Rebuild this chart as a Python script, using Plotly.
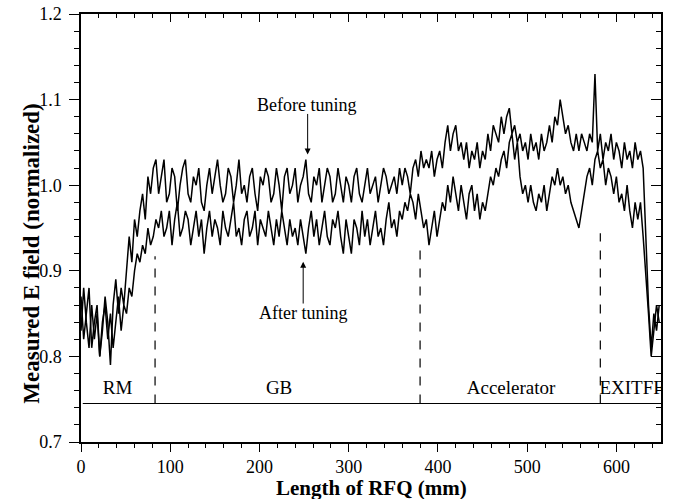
import plotly.graph_objects as go

# position along the RFQ (mm), one reading every 3 mm
length_mm = list(range(0, 651, 3))

before_tuning = [
    0.87, 0.82, 0.85, 0.88, 0.81, 0.84, 0.86, 0.80, 0.83, 0.87,
    0.84, 0.79, 0.86, 0.89, 0.85, 0.88, 0.86, 0.90, 0.94, 0.91,
    0.96, 0.94, 0.97, 0.99, 0.96, 1.01, 0.99, 1.02, 1.03, 0.99,
    1.01, 1.03, 0.98, 0.99, 1.02, 1.01, 0.97, 1.00, 1.02, 1.03,
    0.99, 0.98, 1.01, 1.00, 1.02, 0.98, 0.97, 1.00, 1.02, 0.99,
    1.01, 1.03, 1.00, 0.98, 0.99, 1.02, 1.01, 0.98, 1.00, 1.03,
    0.99, 1.00, 0.98, 1.01, 1.02, 0.99, 0.97, 1.01, 1.00, 1.02,
    1.01, 0.98, 0.99, 1.02, 1.00, 0.97, 1.01, 1.02, 0.99, 1.00,
    1.02, 0.98, 1.00, 1.01, 1.03, 0.99, 0.98, 1.01, 1.00, 1.02,
    0.98, 1.00, 1.02, 1.01, 0.98, 0.99, 1.02, 1.00, 0.98, 1.01,
    1.00, 0.98, 1.01, 1.02, 0.99, 0.98, 1.00, 1.02, 0.99, 1.00,
    1.01, 0.98, 1.00, 1.02, 1.01, 0.99, 1.00, 1.01, 0.99, 1.02,
    1.00, 1.02, 1.01, 0.99, 1.02, 1.03, 1.01, 1.04, 1.02, 1.03,
    1.02, 1.04, 1.01, 1.03, 1.04, 1.02, 1.05, 1.07, 1.04, 1.06,
    1.07, 1.04, 1.05, 1.03, 1.05, 1.02, 1.04, 1.03, 1.05, 1.02,
    1.04, 1.03, 1.06, 1.04, 1.07, 1.06, 1.05, 1.08, 1.06, 1.08,
    1.09, 1.06, 1.07, 1.05, 1.06, 1.04, 1.05, 1.03, 1.06, 1.04,
    1.05, 1.03, 1.06, 1.04, 1.05, 1.07, 1.05, 1.08, 1.07, 1.10,
    1.08, 1.06, 1.07, 1.05, 1.04, 1.06, 1.04, 1.06, 1.05, 1.04,
    1.06, 1.05, 1.13, 1.04, 1.06, 1.03, 1.05, 1.04, 1.06, 1.03,
    1.05, 1.04, 1.02, 1.05, 1.03, 1.04, 1.02, 1.05, 1.03, 1.04,
    1.02, 0.94, 0.86, 0.81, 0.85, 0.83, 0.86,
]

after_tuning = [
    0.83, 0.88, 0.84, 0.81, 0.86, 0.82, 0.85, 0.80, 0.84, 0.86,
    0.82, 0.85, 0.81, 0.84, 0.87, 0.83, 0.86, 0.85, 0.88, 0.87,
    0.90, 0.92, 0.91, 0.93, 0.92, 0.95, 0.93, 0.94, 0.96, 0.95,
    0.97, 0.94, 0.95, 0.97, 0.93, 0.96, 0.98, 0.94, 0.95, 0.97,
    0.96, 0.93, 0.95, 0.97, 0.94, 0.96, 0.92, 0.95, 0.97, 0.94,
    0.96, 0.95, 0.93, 0.97, 0.95, 0.94, 0.96, 0.98, 0.94, 0.95,
    0.93, 0.96, 0.97, 0.94, 0.95, 0.97, 0.93, 0.96, 0.95, 0.94,
    0.97, 0.95, 0.93, 0.96, 0.94, 0.97, 0.95, 0.93, 0.96, 0.94,
    0.95, 0.93, 0.96, 0.94, 0.92, 0.95, 0.97, 0.94, 0.96, 0.93,
    0.95, 0.97, 0.94, 0.93, 0.96, 0.95, 0.97, 0.94, 0.92, 0.96,
    0.94, 0.92, 0.96, 0.95, 0.93, 0.97, 0.94, 0.96, 0.93, 0.95,
    0.97, 0.94, 0.95, 0.93, 0.96, 0.98, 0.95, 0.96, 0.94, 0.97,
    0.96, 0.98, 0.97, 0.99, 0.98, 0.96, 0.99, 0.97, 0.95, 0.96,
    0.93, 0.95, 0.97, 0.94, 0.96, 0.98, 0.97, 1.00, 0.98, 1.01,
    0.99, 0.97, 1.00, 0.98, 0.96, 0.99, 1.00, 0.97, 0.99, 0.96,
    0.98, 0.97, 0.99, 1.01, 1.00, 1.02, 1.01, 1.03, 1.04, 1.02,
    1.05, 1.06, 1.03, 1.05, 1.01, 0.99, 1.00, 0.98, 1.00, 0.98,
    0.97, 0.99, 0.98, 1.00, 0.97, 0.99, 1.01, 1.00, 1.02, 1.00,
    1.01, 0.99, 1.00, 0.98, 0.97, 0.96, 0.95, 0.97, 0.99, 1.01,
    1.02, 1.00, 1.03, 1.04, 1.02, 1.03, 1.00, 1.02, 1.01, 0.99,
    1.01, 0.98, 0.99, 0.97, 1.00, 0.97, 0.95, 0.98, 0.96, 0.98,
    0.94, 0.90, 0.85, 0.80, 0.83, 0.86, 0.84,
]

# section boundaries (mm) and where each dashed marker starts (field value)
boundaries = [83, 380, 582]
boundary_tops = [0.917, 0.925, 0.944]
baseline = 0.745

section_names = ["RM", "GB", "Accelerator", "EXITFF"]
section_x = [41, 222, 482, 581]
section_y = [0.762, 0.762, 0.762, 0.762]

FONT = "Liberation Serif, Times New Roman, serif"
BLACK = "#000000"

fig = go.Figure()

for y in (before_tuning, after_tuning):
    fig.add_trace(go.Scatter(
        x=length_mm, y=y, mode="lines",
        line=dict(color=BLACK, width=1.5),
        showlegend=False, hoverinfo="skip",
    ))

fig.add_trace(go.Scatter(
    x=section_x, y=section_y, mode="text", text=section_names,
    textposition=["middle center", "middle center", "middle center", "middle right"],
    textfont=dict(family=FONT, size=19, color=BLACK),
    cliponaxis=True, showlegend=False, hoverinfo="skip",
))

# dummy trace so the mirrored (inside-tick) top/right axes get drawn
fig.add_trace(go.Scatter(x=[None], y=[None], xaxis="x2", yaxis="y2",
                         showlegend=False, hoverinfo="skip"))

fig.add_shape(type="line", x0=2, x1=650, y0=baseline, y1=baseline,
              xref="x", yref="y", line=dict(color=BLACK, width=1.2))
for bx, top in zip(boundaries, boundary_tops):
    fig.add_shape(type="line", x0=bx, x1=bx, y0=baseline, y1=top,
                  xref="x", yref="y", line=dict(color=BLACK, width=1.2, dash="dash"))

ann_font = dict(family=FONT, size=18, color=BLACK)
fig.add_annotation(x=253, y=1.094, text="Before tuning", showarrow=False, font=ann_font)
fig.add_annotation(x=254, y=1.036, ax=254, ay=1.085, axref="x", ayref="y",
                   text="", showarrow=True, arrowhead=2, arrowsize=1.2,
                   arrowwidth=1, arrowcolor=BLACK)
fig.add_annotation(x=249, y=0.851, text="After tuning", showarrow=False, font=ann_font)
fig.add_annotation(x=249, y=0.9105, ax=249, ay=0.860, axref="x", ayref="y",
                   text="", showarrow=True, arrowhead=2, arrowsize=1.2,
                   arrowwidth=1, arrowcolor=BLACK)

# axis titles as annotations, placed like the original
fig.add_annotation(x=0.5, y=0, xref="paper", yref="paper",
                   xanchor="center", yanchor="middle", yshift=-46,
                   text="<b>Length of RFQ (mm)</b>", showarrow=False,
                   font=dict(family=FONT, size=21, color=BLACK))
fig.add_annotation(x=0, y=0.44, xref="paper", yref="paper",
                   xanchor="center", yanchor="middle", xshift=-49,
                   text="<b>Measured E field (normalized)</b>", textangle=-90,
                   showarrow=False, font=dict(family=FONT, size=23, color=BLACK))

tick_font = dict(family=FONT, size=18, color=BLACK)

fig.update_layout(
    width=678, height=499,
    margin=dict(l=81, r=17, t=14, b=57),
    plot_bgcolor="white", paper_bgcolor="white",
    xaxis=dict(
        range=[0, 650], dtick=100, tick0=0, automargin=False,
        ticks="outside", ticklen=8, tickwidth=1.3, tickcolor=BLACK,
        minor=dict(dtick=20, ticks="outside", ticklen=4, tickwidth=1.2, tickcolor=BLACK),
        showline=True, linecolor=BLACK, linewidth=1.5,
        showgrid=False, zeroline=False, tickfont=tick_font,
    ),
    yaxis=dict(
        range=[0.7, 1.2], dtick=0.1, tick0=0.7, tickformat=".1f", automargin=False,
        ticks="outside", ticklen=10, tickwidth=1.3, tickcolor=BLACK,
        minor=dict(dtick=0.02, ticks="outside", ticklen=5, tickwidth=1.2, tickcolor=BLACK),
        showline=True, linecolor=BLACK, linewidth=1.5, ticklabelstandoff=4,
        showgrid=False, zeroline=False, tickfont=tick_font,
    ),
    xaxis2=dict(
        overlaying="x", side="top", anchor="y2", range=[0, 650], dtick=100, tick0=0,
        ticks="inside", ticklen=8, tickwidth=1.3, tickcolor=BLACK, automargin=False,
        minor=dict(dtick=20, ticks="inside", ticklen=4, tickwidth=1.2, tickcolor=BLACK),
        showline=True, linecolor=BLACK, linewidth=1.5,
        showgrid=False, zeroline=False, showticklabels=False,
    ),
    yaxis2=dict(
        overlaying="y", side="right", anchor="x2", range=[0.7, 1.2], dtick=0.1, tick0=0.7,
        ticks="inside", ticklen=10, tickwidth=1.3, tickcolor=BLACK, automargin=False,
        minor=dict(dtick=0.02, ticks="inside", ticklen=5, tickwidth=1.2, tickcolor=BLACK),
        showline=True, linecolor=BLACK, linewidth=1.5,
        showgrid=False, zeroline=False, showticklabels=False,
    ),
)

# drop the browser's default 8px page margin so the figure sits at the window origin
fig.write_html("out.html", config={"displayModeBar": False},
               post_script="document.body.style.margin = '0';")
